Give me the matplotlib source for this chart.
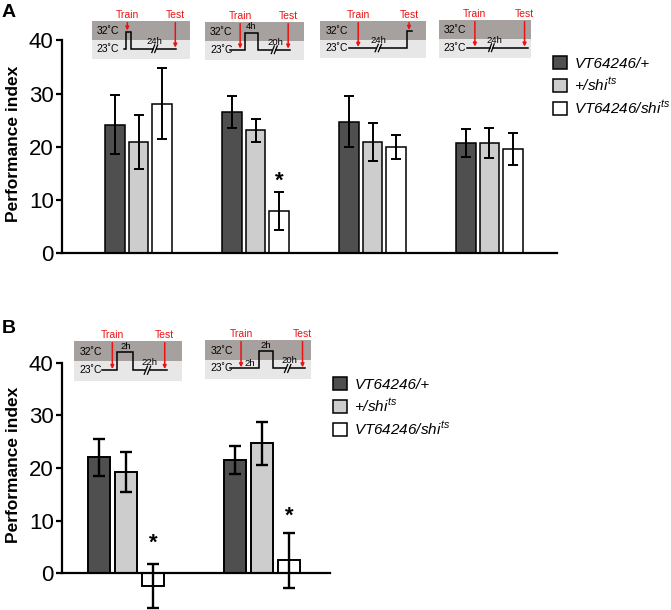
import matplotlib
matplotlib.use("Agg")
import matplotlib.pyplot as plt
from matplotlib.patches import Rectangle, Patch
import numpy as np

plt.rcParams["font.family"] = ["Liberation Sans", "DejaVu Sans"]
plt.rcParams["mathtext.fontset"] = "custom"
plt.rcParams["mathtext.rm"] = "Liberation Sans"
plt.rcParams["mathtext.it"] = "Liberation Sans:italic"

W, H = 671, 610

# ── data ──
GENOTYPES = ["VT64246/+", "+/$\\mathit{shi}^{ts}$", "VT64246/$\\mathit{shi}^{ts}$"]
COLORS = ["#4f4f4f", "#cdcdcd", "white"]

# panel A: 4 temperature protocols x 3 genotypes
A_MEAN = [[24.2, 20.9, 28.1], [26.6, 23.1, 8.0], [24.7, 20.9, 20.0], [20.7, 20.7, 19.6]]
A_ERR = [[5.6, 5.0, 6.7], [3.0, 2.1, 3.5], [4.8, 3.5, 2.3], [2.6, 2.8, 3.0]]
A_STARS = [(1, 2, 13.6)]          # (group, genotype, y)

# panel B: 2 protocols x 3 genotypes
B_MEAN = [[22.0, 19.2, -2.4], [21.5, 24.7, 2.5]]
B_ERR = [[3.5, 3.8, 4.1], [2.7, 4.1, 5.2]]
B_STARS = [(0, 2, 5.8), (1, 2, 10.8)]

PITCH, BW = 0.2, 0.165


def px_axes(x0, y0, x1, y1):
    return fig.add_axes([x0 / W, 1 - y1 / H, (x1 - x0) / W, (y1 - y0) / H])


def bar_panel(ax, means, errs, stars, lw):
    means = np.asarray(means)
    errs = np.asarray(errs)
    ng = means.shape[0]
    for i in range(3):
        x = np.arange(ng) + (i - 1) * PITCH
        ax.bar(x, means[:, i], width=BW, color=COLORS[i], edgecolor="black",
               lw=lw, zorder=2, clip_on=False)
        ax.errorbar(x, means[:, i], yerr=errs[:, i], fmt="none", ecolor="black",
                    elinewidth=lw + 0.3, capsize=3.6 * lw / 1.1, capthick=lw + 0.3,
                    zorder=3, clip_on=False)
    for g, i, y in stars:
        ax.text(g + (i - 1) * PITCH, y, "*", ha="center", va="center",
                fontsize=16, fontweight="bold")
    ax.set_yticks([0, 10, 20, 30, 40])
    ax.set_xticks([])
    for s in ["top", "right"]:
        ax.spines[s].set_visible(False)
    ax.spines["left"].set_linewidth(1.6)
    ax.spines["bottom"].set_linewidth(1.6)
    ax.spines["left"].set_bounds(0, 40)
    ax.spines["bottom"].set_position(("data", 0))
    ax.tick_params(axis="y", labelsize=16, length=4, width=1.6, pad=2)


def schematic(rect, path1, path2, brk, hlabels, train, test):
    ax = px_axes(*rect)
    ax.set_xlim(0, 1)
    ax.set_ylim(0, 1)
    ax.axis("off")
    ax.add_patch(Rectangle((0, 0.5), 1, 0.5, color="#a6a19f", lw=0))
    ax.add_patch(Rectangle((0, 0), 1, 0.5, color="#e7e7e7", lw=0))
    ax.text(0.05, 0.73, "32˚C", fontsize=7.5, va="center", ha="left")
    ax.text(0.05, 0.27, "23˚C", fontsize=7.5, va="center", ha="left")
    for p in (path1, path2):
        u, v = zip(*p)
        ax.plot(u, v, color="black", lw=1.1, solid_joinstyle="miter")
    for d in (-0.015, 0.015):
        ax.plot([brk + d - 0.015, brk + d + 0.015], [0.17, 0.37], color="black", lw=0.9)
    for u, v, s in hlabels:
        ax.text(u, v, s, fontsize=6.8, ha="center", va="center")
    for name, (u, tip) in (("Train", train), ("Test", test)):
        ax.annotate(name, xy=(u, tip), xytext=(u, 1.03), ha="center", va="bottom",
                    color="#ee1111", fontsize=7.5, annotation_clip=False,
                    arrowprops=dict(arrowstyle="-|>", color="#ee1111", lw=1.1,
                                    mutation_scale=5, shrinkA=0, shrinkB=0))


fig = plt.figure(figsize=(W / 100, H / 100), dpi=100)

# ── panel A ──
axA = px_axes(62, 40.3, 557, 253.5)
axA.set_ylim(0, 40)
axA.set_xlim(-0.654, 3.577)
bar_panel(axA, A_MEAN, A_ERR, A_STARS, 1.1)
fig.text(13.5 / W, 1 - 143.5 / H, "Performance index", rotation=90, ha="center",
         va="center", fontsize=12.5, fontweight="bold")
fig.text(2 / W, 1 - 4 / H, "A", fontsize=14, fontweight="bold", va="top")

lo, hi = 0.27, 0.72
schematic((92, 21, 190, 59),
          [(0.33, lo), (0.345, lo), (0.345, hi), (0.395, hi), (0.395, lo), (0.62, lo)],
          [(0.66, lo), (0.86, lo)], 0.64, [(0.64, 0.47, "24h")],
          (0.36, hi + 0.03), (0.85, 0.3))
schematic((205, 22, 304, 60),
          [(0.25, lo), (0.405, lo), (0.405, hi), (0.54, hi), (0.54, lo), (0.68, lo)],
          [(0.72, lo), (0.86, lo)], 0.70, [(0.71, 0.47, "20h"), (0.47, 0.87, "4h")],
          (0.355, 0.3), (0.84, 0.3))
schematic((320, 21, 426, 58),
          [(0.27, lo), (0.53, lo)],
          [(0.57, lo), (0.82, lo), (0.82, hi), (0.865, hi)], 0.55, [(0.55, 0.47, "24h")],
          (0.36, 0.3), (0.84, hi + 0.04))
schematic((439, 20, 531, 58),
          [(0.30, lo), (0.55, lo)],
          [(0.59, lo), (0.97, lo)], 0.57, [(0.60, 0.47, "24h")],
          (0.39, 0.3), (0.93, 0.3))

handles = [Patch(facecolor=c, edgecolor="black", lw=1.1) for c in COLORS]
fig.legend(handles, GENOTYPES, loc="upper left", bbox_to_anchor=(553 / W, 1 - 56 / H),
           frameon=False, borderpad=0, borderaxespad=0, handlelength=0.9,
           handleheight=0.9, handletextpad=0.5, labelspacing=0.35,
           prop=dict(size=11, style="italic"))

# ── panel B ──
axB = px_axes(62, 362.7, 330, 610.2)
axB.set_ylim(-7, 40)
axB.set_xlim(-0.47, 1.5)
bar_panel(axB, B_MEAN, B_ERR, B_STARS, 1.4)
fig.text(13.5 / W, 1 - 465 / H, "Performance index", rotation=90, ha="center",
         va="center", fontsize=12.5, fontweight="bold")
fig.text(2 / W, 1 - 320 / H, "B", fontsize=14, fontweight="bold", va="top")

schematic((74, 341, 182, 381),
          [(0.26, lo), (0.40, lo), (0.40, hi), (0.55, hi), (0.55, lo), (0.66, lo)],
          [(0.70, lo), (0.86, lo)], 0.68, [(0.70, 0.47, "22h"), (0.475, 0.87, "2h")],
          (0.355, 0.3), (0.84, 0.3))
schematic((205, 340, 311, 379),
          [(0.24, lo), (0.505, lo), (0.505, hi), (0.64, hi), (0.64, lo), (0.76, lo)],
          [(0.80, lo), (0.94, lo)], 0.78,
          [(0.80, 0.47, "20h"), (0.575, 0.87, "2h"), (0.42, 0.4, "2h")],
          (0.34, 0.3), (0.92, 0.3))

fig.legend(handles, GENOTYPES, loc="upper left", bbox_to_anchor=(333 / W, 1 - 377 / H),
           frameon=False, borderpad=0, borderaxespad=0, handlelength=0.9,
           handleheight=0.9, handletextpad=0.5, labelspacing=0.35,
           prop=dict(size=11, style="italic"))

fig.savefig("out.png", dpi=100)
